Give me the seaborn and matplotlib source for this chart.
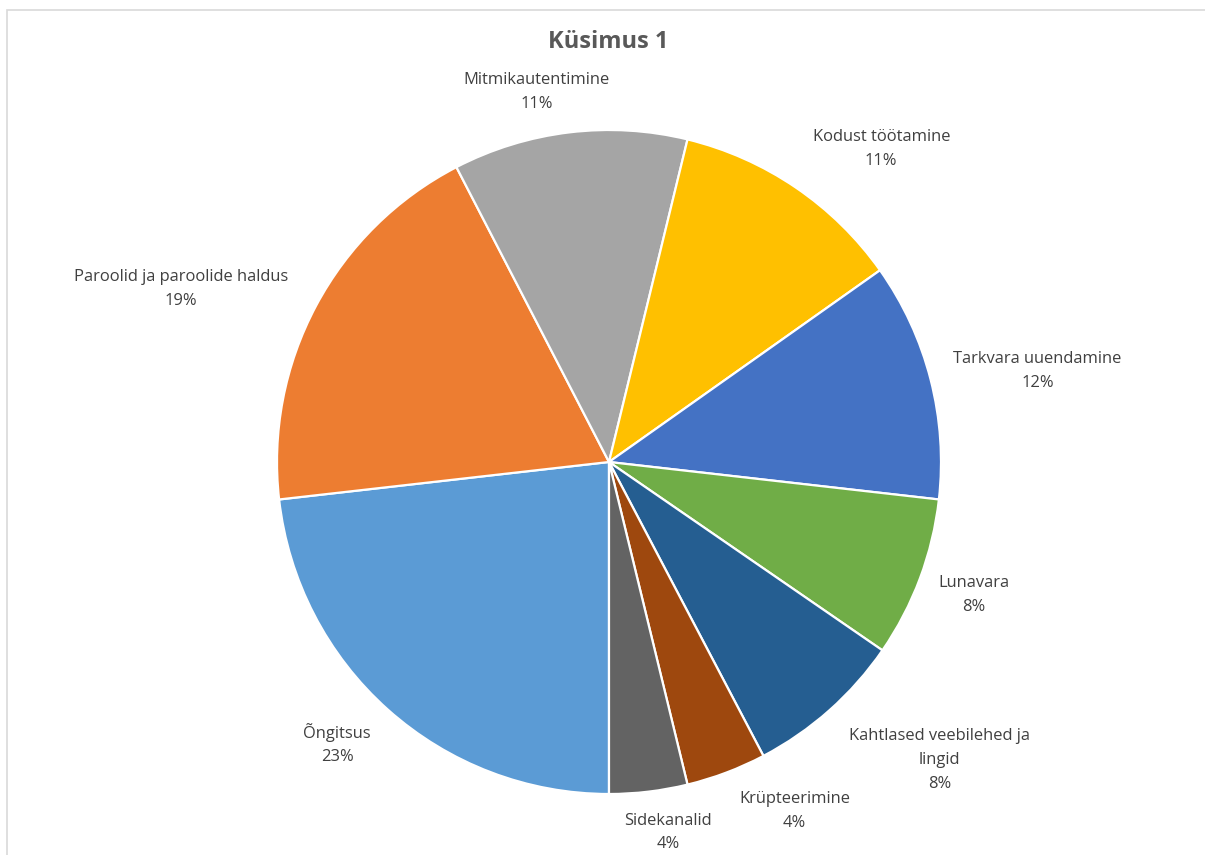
import numpy as np
import matplotlib
matplotlib.use("Agg")
import matplotlib.pyplot as plt
import seaborn as sns
from matplotlib.patches import Rectangle

# ---- data (clockwise, starting at 6 o'clock) ----
categories = ["Õngitsus", "Paroolid ja paroolide haldus", "Mitmikautentimine",
              "Kodust töötamine", "Tarkvara uuendamine", "Lunavara",
              "Kahtlased veebilehed ja\nlingid", "Krüpteerimine", "Sidekanalid"]
values = [23.2, 19.2, 11.4, 11.4, 11.6, 7.8, 7.7, 3.9, 3.8]
colors = ["#5B9BD5", "#ED7D31", "#A5A5A5", "#FFC000", "#4472C4",
          "#70AD47", "#255E91", "#9E480E", "#636363"]
title = "Küsimus 1"

# label placement style (radius in pie radii, clockwise angle shift in degrees)
label_radius = [1.18, 1.39, 1.135, 1.25, 1.32, 1.17, 1.34, 1.19, 1.13]
label_shift = [2.2, -6.1, -4.2, 6.8, 2.4, -0.5, -6.4, -7.3, -2.2]

sns.set_theme(style="white")
plt.rcParams["font.family"] = ["Open Sans", "DejaVu Sans"]

W, H = 1205, 855
fig = plt.figure(figsize=(W / 100, H / 100), dpi=100)
fig.patch.set_facecolor("white")

R = 332.0
cx, cy = 609.0, 462.0
L = 1.05
ax = fig.add_axes([(cx - L * R) / W, (H - cy - L * R) / H, 2 * L * R / W, 2 * L * R / H])

wedges, _ = ax.pie(values, colors=colors, startangle=-90, counterclock=False,
                   radius=1.0, wedgeprops=dict(edgecolor="white", linewidth=1.6))
ax.set_xlim(-L, L)
ax.set_ylim(-L, L)
ax.set_aspect("equal")
ax.axis("off")

total = sum(values)
for w, name, v, r, s in zip(wedges, categories, values, label_radius, label_shift):
    mid = np.deg2rad((w.theta1 + w.theta2) / 2.0 - s)
    x, y = r * np.cos(mid), r * np.sin(mid)
    pct = round(v / total * 100)
    ax.text(x, y, f"{name}\n{pct}%", ha="center", va="center", fontsize=11.9,
            color="#404040", linespacing=1.65, clip_on=False)

fig.text(608 / W, 1 - 42 / H, title, ha="center", va="center", fontsize=17,
         fontweight="bold", color="#595959")

# chart area border
fig.patches.append(Rectangle((7.5 / W, -0.01), 1.2, 1 - 10.5 / H + 0.01,
                             transform=fig.transFigure, fill=False,
                             edgecolor="#D9D9D9", linewidth=1.2))

fig.savefig("out.png", dpi=100, facecolor="white")
